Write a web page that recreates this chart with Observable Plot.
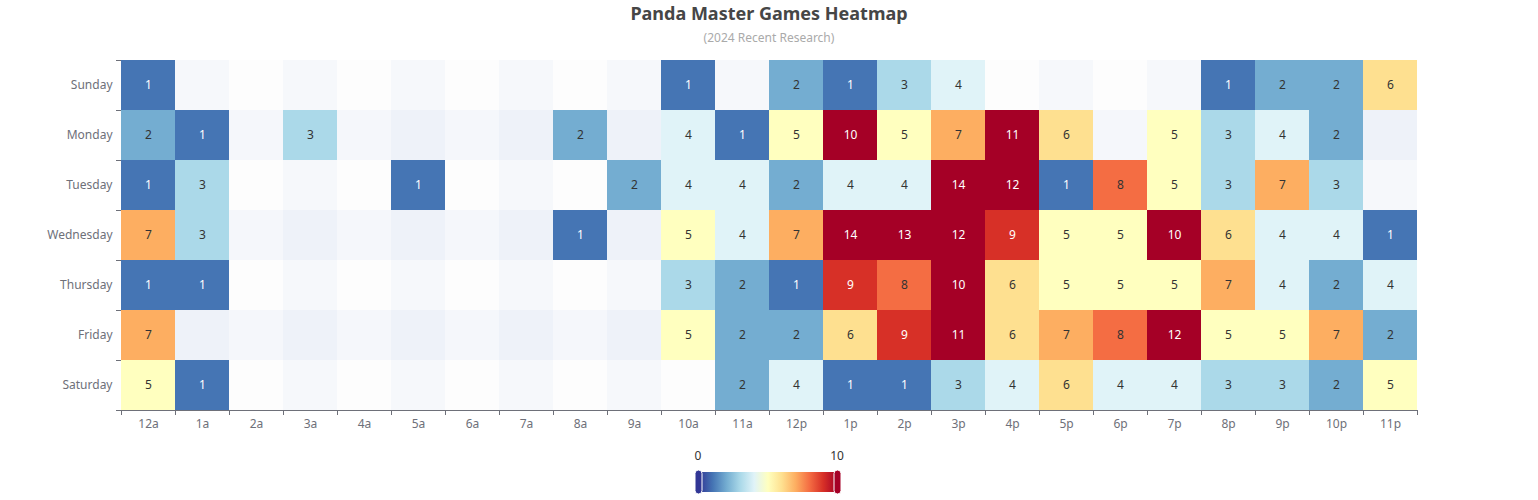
<!DOCTYPE html>
<html>
<head>
<meta charset="utf-8">
<script src="https://cdn.jsdelivr.net/npm/d3@7"></script>
<script src="https://cdn.jsdelivr.net/npm/@observablehq/plot@0.6"></script>
<style>
  html, body { margin: 0; padding: 0; background: #fff; }
  body { font-family: "Noto Sans", sans-serif; width: 1538px; height: 500px; position: relative; overflow: hidden; }
  #title { position: absolute; left: 0; width: 1538px; top: 3px; text-align: center; font-size: 18px; line-height: 20px; font-weight: bold; color: #464646; }
  #subtitle { position: absolute; left: 0; width: 1538px; top: 31px; text-align: center; font-size: 12px; line-height: 14px; color: #aaa; }
  #chart { position: absolute; left: 0; top: 50px; }
  #legend { position: absolute; left: 0; top: 440px; }
</style>
</head>
<body>
<div id="title">Panda Master Games Heatmap</div>
<div id="subtitle">(2024 Recent Research)</div>
<div id="chart"></div>
<div id="legend"></div>
<script>
const days = ["Sunday", "Monday", "Tuesday", "Wednesday", "Thursday", "Friday", "Saturday"];
const hours = ["12a", "1a", "2a", "3a", "4a", "5a", "6a", "7a", "8a", "9a", "10a", "11a",
               "12p", "1p", "2p", "3p", "4p", "5p", "6p", "7p", "8p", "9p", "10p", "11p"];
// 0 = no data
const sunday    = [1, 0, 0, 0, 0, 0, 0, 0, 0, 0, 1, 0, 2, 1, 3, 4, 0, 0, 0, 0, 1, 2, 2, 6];
const monday    = [2, 1, 0, 3, 0, 0, 0, 0, 2, 0, 4, 1, 5, 10, 5, 7, 11, 6, 0, 5, 3, 4, 2, 0];
const tuesday   = [1, 3, 0, 0, 0, 1, 0, 0, 0, 2, 4, 4, 2, 4, 4, 14, 12, 1, 8, 5, 3, 7, 3, 0];
const wednesday = [7, 3, 0, 0, 0, 0, 0, 0, 1, 0, 5, 4, 7, 14, 13, 12, 9, 5, 5, 10, 6, 4, 4, 1];
const thursday  = [1, 1, 0, 0, 0, 0, 0, 0, 0, 0, 3, 2, 1, 9, 8, 10, 6, 5, 5, 5, 7, 4, 2, 4];
const friday    = [7, 0, 0, 0, 0, 0, 0, 0, 0, 0, 5, 2, 2, 6, 9, 11, 6, 7, 8, 12, 5, 5, 7, 2];
const saturday  = [5, 1, 0, 0, 0, 0, 0, 0, 0, 0, 0, 2, 4, 1, 1, 3, 4, 6, 4, 4, 3, 3, 2, 5];
const rowsByDay = [sunday, monday, tuesday, wednesday, thursday, friday, saturday];

const palette = ["#313695", "#4575b4", "#74add1", "#abd9e9", "#e0f3f8", "#ffffbf",
                 "#fee090", "#fdae61", "#f46d43", "#d73027", "#a50026"];
const legendMin = 0, legendMax = 10;

const allCells = days.flatMap((day, i) => hours.map((hour, j) => ({day, hour, i, j})));
const data = days.flatMap((day, i) => rowsByDay[i].map((value, j) => ({day, hour: hours[j], value})))
                 .filter(d => d.value > 0);
const isDark = v => v <= 1 || v >= 9;

const font = "'Noto Sans', sans-serif";
const chart = Plot.plot({
  width: 1538,
  height: 390,
  marginLeft: 120,
  marginRight: 120,
  marginTop: 10,
  marginBottom: 30,
  style: {fontFamily: font, fontSize: "12px", color: "#6E7079", background: "transparent"},
  x: {domain: hours, padding: 0, label: null},
  y: {domain: days, padding: 0, label: null},
  color: {type: "linear", domain: d3.range(legendMin, legendMax + 1), range: palette, clamp: true},
  marks: [
    Plot.cell(allCells.filter(d => d.j % 2 === 0), {x: "hour", y: "day", fill: "rgb(250,250,250)", fillOpacity: 0.2, inset: 0}),
    Plot.cell(allCells.filter(d => d.j % 2 === 1), {x: "hour", y: "day", fill: "rgb(210,219,238)", fillOpacity: 0.2, inset: 0}),
    Plot.cell(allCells.filter(d => d.i % 2 === 0), {x: "hour", y: "day", fill: "rgb(250,250,250)", fillOpacity: 0.2, inset: 0}),
    Plot.cell(allCells.filter(d => d.i % 2 === 1), {x: "hour", y: "day", fill: "rgb(210,219,238)", fillOpacity: 0.2, inset: 0}),
    Plot.cell(data, {x: "hour", y: "day", fill: "value", inset: 0}),
    Plot.text(data.filter(d => isDark(d.value)), {x: "hour", y: "day", text: "value", fill: "#fff", fontSize: 12}),
    Plot.text(data.filter(d => !isDark(d.value)), {x: "hour", y: "day", text: "value", fill: "#333", fontSize: 12}),
    Plot.axisX({tickSize: 0, tickPadding: 9, fill: "#6E7079", fontSize: 12, label: null}),
    Plot.axisY({tickSize: 0, tickPadding: 8, fill: "#6E7079", fontSize: 12, label: null})
  ]
});
document.getElementById("chart").appendChild(chart);

// Category-boundary ticks and axis line, positioned from Plot's own scales
const xs = chart.scale("x"), ys = chart.scale("y");
const svg = d3.select(chart);
const xb = hours.map(h => xs.apply(h)).concat([xs.apply(hours[hours.length - 1]) + xs.bandwidth]);
const yb = days.map(d => ys.apply(d)).concat([ys.apply(days[days.length - 1]) + ys.bandwidth]);
const yBottom = yb[yb.length - 1];
const g = svg.append("g").attr("stroke", "#6E7079").attr("stroke-width", 1);
g.append("line").attr("x1", xb[0]).attr("x2", xb[xb.length - 1]).attr("y1", yBottom + 0.5).attr("y2", yBottom + 0.5);
g.selectAll(".xt").data(xb).join("line")
  .attr("x1", d => Math.round(d) + 0.5).attr("x2", d => Math.round(d) + 0.5)
  .attr("y1", yBottom).attr("y2", yBottom + 5);
g.selectAll(".yt").data(yb).join("line")
  .attr("y1", d => Math.round(d) + 0.5).attr("y2", d => Math.round(d) + 0.5)
  .attr("x1", xb[0] - 5).attr("x2", xb[0]);

// Continuous visualMap legend
const lw = 1538, lh = 60;
const lsvg = d3.select("#legend").append("svg").attr("width", lw).attr("height", lh)
  .style("font-family", font);
const barX = 699, barW = 138, barY = 32, barH = 20;
const grad = lsvg.append("defs").append("linearGradient").attr("id", "lg");
palette.forEach((c, k) => grad.append("stop").attr("offset", (k / (palette.length - 1)) * 100 + "%").attr("stop-color", c));
lsvg.append("rect").attr("x", barX).attr("y", barY).attr("width", barW).attr("height", barH).attr("fill", "url(#lg)");
lsvg.append("rect").attr("x", barX - 4).attr("y", barY - 2).attr("width", 7).attr("height", barH + 4).attr("rx", 3.5)
  .attr("fill", palette[0]).attr("stroke", "#fff").attr("stroke-width", 1);
lsvg.append("rect").attr("x", barX + barW - 3).attr("y", barY - 2).attr("width", 7).attr("height", barH + 4).attr("rx", 3.5)
  .attr("fill", palette[palette.length - 1]).attr("stroke", "#fff").attr("stroke-width", 1);
lsvg.append("text").attr("x", barX - 1).attr("y", 17).attr("text-anchor", "middle").attr("dominant-baseline", "middle")
  .attr("font-size", 12).attr("fill", "#333").text(String(legendMin));
lsvg.append("text").attr("x", barX + barW).attr("y", 17).attr("text-anchor", "middle").attr("dominant-baseline", "middle")
  .attr("font-size", 12).attr("fill", "#333").text(String(legendMax));
</script>
</body>
</html>
